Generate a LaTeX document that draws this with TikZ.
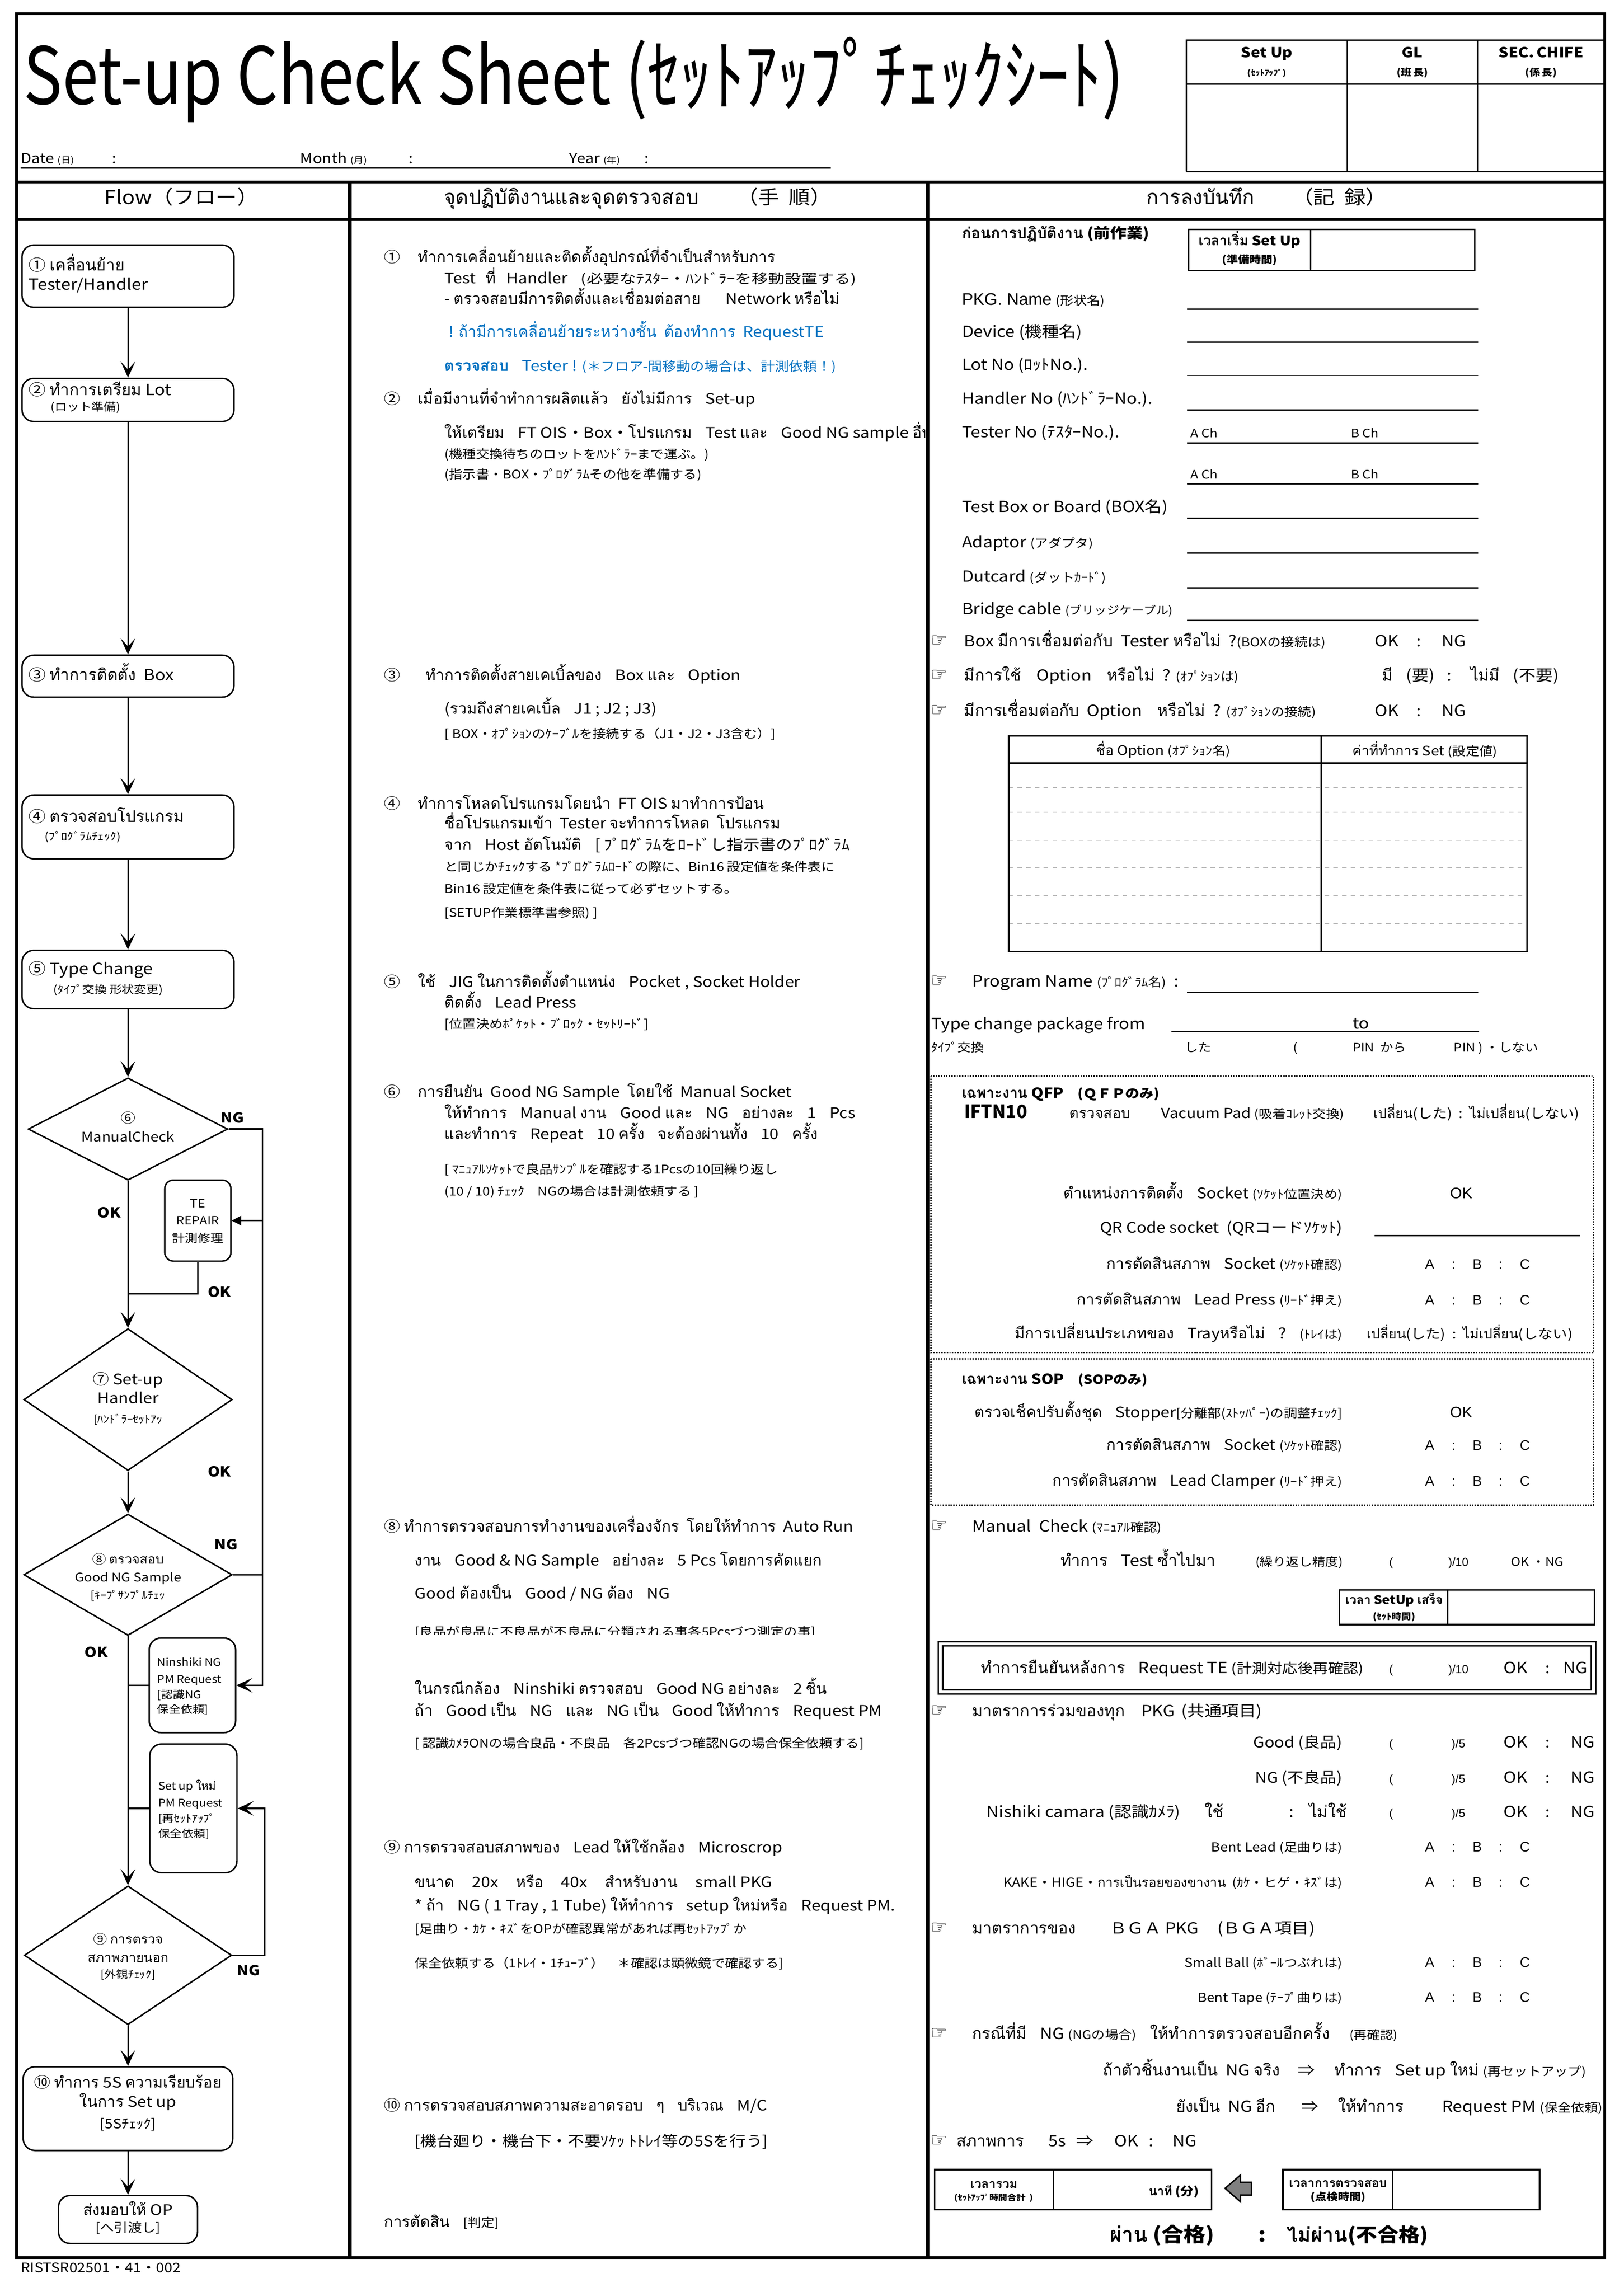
\documentclass[tikz,border=0pt]{standalone}
\usepackage{graphicx}
\usepackage{fontspec}
\setmainfont{Noto Sans CJK JP}[FakeStretch=1.12]
\newfontfamily\thaifont[Script=Thai,Scale=1.05]{Loma}
\newfontfamily\handfont{DejaVu Sans}
\newfontfamily\arfont{Liberation Sans}
\usetikzlibrary{arrows.meta,shapes.geometric}
\newcommand\fs[1]{\fontsize{#1}{#1}\selectfont}
\newcommand\SMa[1]{{\fs{8.2}#1}}
\newcommand\SMb[1]{{\fs{6}#1}}
\newcommand\SMc[1]{\scalebox{1.12}[1]{\fs{9}#1}}
\newcommand\hand{{\handfont\fs{13}☞}}
\newcommand\gap{\hspace{9pt}}
\newcommand\wgap{\hspace{12pt}}
\XeTeXinterchartokenstate=1
\chardef\thaicls=201
\newcount\tmpc
\tmpc="0E00
\loop
  \XeTeXcharclass\tmpc=\thaicls
  \ifnum\tmpc<"0E7F \advance\tmpc by 1
\repeat
\XeTeXinterchartoks 0 \thaicls = {\thaifont}
\XeTeXinterchartoks 1 \thaicls = {\thaifont}
\XeTeXinterchartoks 2 \thaicls = {\thaifont}
\XeTeXinterchartoks 3 \thaicls = {\thaifont}
\XeTeXinterchartoks 4095 \thaicls = {\thaifont}
\XeTeXinterchartoks \thaicls 0 = {\rmfamily}
\XeTeXinterchartoks \thaicls 1 = {\rmfamily}
\XeTeXinterchartoks \thaicls 2 = {\rmfamily}
\XeTeXinterchartoks \thaicls 3 = {\rmfamily}
\XeTeXinterchartoks \thaicls 4095 = {\rmfamily}
\definecolor{blu}{RGB}{0,112,192}
\definecolor{lgray}{RGB}{185,185,185}
\definecolor{agray}{RGB}{128,128,128}
\begin{document}
\begin{tikzpicture}[x=1pt,y=-1pt,
  frame/.style={line width=2pt},
  thin/.style={line width=0.9pt},
  fbox/.style={draw, line width=1pt, rounded corners=8pt, inner sep=0pt},
  sbox/.style={draw, line width=1pt, rounded corners=6pt, inner sep=0pt},
  dia/.style={draw, diamond, line width=1pt, inner sep=0pt},
  arr/.style={line width=1pt, -{Stealth[length=11pt,width=10pt,inset=5.5pt]}},
  tarr/.style={line width=1pt, -{Triangle[length=6.5pt,width=6.5pt]}},
  con/.style={line width=1pt},
  fl/.style={anchor=mid west, inner sep=0pt, font=\fs{10.5}},
  flc/.style={anchor=mid, inner sep=0pt, font=\fs{10}},
  fls/.style={anchor=mid west, inner sep=0pt, font=\fs{7.5}},
  flsc/.style={anchor=mid, inner sep=0pt, font=\fs{7.2}},
  lab/.style={anchor=mid, inner sep=0pt, font=\bfseries\fs{9.5}},
  mt/.style={anchor=mid west, inner sep=0pt, font=\fs{10}},
  ms/.style={anchor=mid west, inner sep=0pt, font=\fs{8.2}},
  rt/.style={anchor=mid west, inner sep=0pt, font=\fs{10.5}},
  rr/.style={anchor=mid east, inner sep=0pt, font=\fs{10}},
  rc/.style={anchor=mid, inner sep=0pt, font=\fs{10}},
  rs/.style={anchor=mid west, inner sep=0pt, font=\fs{8}},
  ab/.style={anchor=mid, inner sep=0pt, font=\arfont\fs{9.5}},
  hd/.style={anchor=mid, inner sep=0pt, font=\fs{13}},
  uline/.style={line width=0.9pt},
  dotbox/.style={line width=0.8pt, dash pattern=on 0.9pt off 0.9pt},
]
\useasboundingbox (0,0) rectangle (1110,1567.2);

% ---------------- frame ----------------
\draw[frame] (11.5,9.5) rectangle (1097,1543.7);
\draw[frame] (11.5,124.5) -- (1097,124.5);
\draw[frame] (11.5,150) -- (1097,150);
\draw[line width=2.5pt] (239,124.5) -- (239,1543.7);
\draw[line width=2.5pt] (634,124.5) -- (634,1543.7);

% ---------------- title area ----------------
\node[anchor=base west, inner sep=0pt] (title) at (16,71.4)
  {\resizebox{752pt}{\height}{\fs{54}Set-up Check Sheet (ｾｯﾄｱｯﾌﾟﾁｪｯｸｼｰﾄ)}};
\draw[thin] (811,117.3) -- (811,27.5) -- (1097,27.5);
\draw[thin] (811,57.5) -- (1097,57.5);
\draw[thin] (811,117.3) -- (1097,117.3);
\draw[thin] (921,27.5) -- (921,117.3);
\draw[thin] (1010,27.5) -- (1010,117.3);
\node[anchor=mid, inner sep=0pt, font=\bfseries\fs{9.5}] (apA) at (866,36.7) {Set Up};
\node[anchor=mid, inner sep=0pt, font=\bfseries\fs{5.5}] (apAs) at (866,49.2) {(ｾｯﾄｱｯﾌﾟ)};
\node[anchor=mid, inner sep=0pt, font=\bfseries\fs{9.5}] (apB) at (965.5,36.7) {GL};
\node[anchor=mid, inner sep=0pt, font=\bfseries\fs{6.5}] (apBs) at (965.5,49.2) {(班\,長)};
\node[anchor=mid, inner sep=0pt, font=\bfseries\fs{9.5}] (apC) at (1053.5,36.7) {SEC.\,CHIFE};
\node[anchor=mid, inner sep=0pt, font=\bfseries\fs{6.5}] (apCs) at (1053.5,49.2) {(係\,長)};

\node[anchor=mid west, inner sep=0pt, font=\fs{9.5}] (dt) at (14,109) {Date \SMb{(日)}};
\node[anchor=mid, inner sep=0pt, font=\fs{9.5}] (dtc) at (78,109) {:};
\node[anchor=mid west, inner sep=0pt, font=\fs{9.5}] (mo) at (205,109) {Month \SMb{(月)}};
\node[anchor=mid, inner sep=0pt, font=\fs{9.5}] (moc) at (281,109) {:};
\node[anchor=mid west, inner sep=0pt, font=\fs{9.5}] (yr) at (389,109) {Year \SMb{(年)}};
\node[anchor=mid, inner sep=0pt, font=\fs{9.5}] (yrc) at (442,109) {:};
\draw[uline] (14,115) -- (568,115);

\node[hd] (h1) at (124,137) {Flow（フロー）};
\node[hd] (h2) at (436,137) {จุดปฏิบัติงานและจุดตรวจสอบ\qquad（手\enspace 順）};
\node[hd] (h3) at (866,137) {การลงบันทึก\qquad（記\enspace 録）};

% ---------------- flow column ----------------
\node[fbox, minimum width=144.9pt, minimum height=42.5pt] (b1) at (87.5,188.85) {};
\node[fbox, minimum width=144.9pt, minimum height=29.5pt] (b2) at (87.5,273.45) {};
\node[fbox, minimum width=144.9pt, minimum height=28.7pt] (b3) at (87.5,462.35) {};
\node[fbox, minimum width=144.9pt, minimum height=43.6pt] (b4) at (87.5,565.4) {};
\node[fbox, minimum width=144.9pt, minimum height=39.9pt] (b5) at (87.5,669.75) {};
\node[dia, minimum width=136.5pt, minimum height=70pt] (d6) at (87.5,772) {};
\node[sbox, minimum width=45.3pt, minimum height=55.4pt] (te) at (135.25,834.6) {};
\node[dia, minimum width=142.5pt, minimum height=97pt] (d7) at (87.5,957) {};
\node[dia, minimum width=142.5pt, minimum height=83pt] (d8) at (87.5,1076.75) {};
\node[fbox, minimum width=59.1pt, minimum height=64.7pt] (ns) at (131.55,1152.35) {};
\node[fbox, minimum width=59.6pt, minimum height=88pt] (su) at (132.2,1236.5) {};
\node[dia, minimum width=141.8pt, minimum height=94.9pt] (d9) at (87.5,1336.95) {};
\node[fbox, minimum width=143.3pt, minimum height=57.2pt] (b10) at (87.5,1441.8) {};
\node[fbox, minimum width=95.1pt, minimum height=32.8pt] (bl) at (87.5,1517.6) {};

\draw[arr] (b1.south) -- (b2.north);
\draw[arr] (b2.south) -- (b3.north);
\draw[arr] (b3.south) -- (b4.north);
\draw[arr] (b4.south) -- (b5.north);
\draw[arr] (b5.south) -- (d6.north);
\draw[arr] (d6.south) -- (d7.north);
\draw[arr] (d7.south) -- (d8.north);
\draw[arr] (d8.south) -- (d9.north);
\draw[arr] (d9.south) -- (b10.north);
\draw[arr] (b10.south) -- (bl.north);

\coordinate (ng6a) at (179.4,772);
\coordinate (ng6b) at (179.4,1152.35);
\coordinate (tea) at (179.4,834.6);
\coordinate (tej) at (87.5,884.8);
\coordinate (ng9a) at (181,1336.95);
\draw[arr] (d6.east) -- (ng6a) -- (ng6b) -- (ns.east);
\draw[tarr] (tea) -- (te.east);
\draw[con] (d8.east) -- (d8.east -| ng6a);
\draw[con] (te.south) |- (tej);
\draw[con] (ns.west) -- (ns.west -| d8.south);
\draw[con] (su.west) -- (su.west -| d8.south);
\draw[arr] (d9.east) -- (ng9a) |- (su.east);

\node[fl] (f1a) at (19.4,182.4) {① เคลื่อนย้าย};
\node[fl] (f1b) at (19.4,195.5) {Tester/Handler};
\node[fl] (f2a) at (19.4,267.5) {② ทำการเตรียม Lot};
\node[fls] (f2b) at (34.4,278.4) {(ロット準備)};
\node[fl] (f3a) at (19.4,462.6) {③ ทำการติดตั้ง\enspace Box};
\node[fl] (f4a) at (19.4,559.5) {④ ตรวจสอบโปรแกรม};
\node[fls] (f4b) at (30.4,572) {(ﾌﾟﾛｸﾞﾗﾑﾁｪｯｸ)};
\node[fl] (f5a) at (19.4,663.5) {⑤ Type Change};
\node[fls] (f5b) at (36.4,676.6) {(ﾀｲﾌﾟ交換 形状変更)};
\node[flc, font=\fs{9}] (f6a) at (87.5,765) {⑥};
\node[flc, font=\fs{9}] (f6b) at (87.5,778) {ManualCheck};
\node[flsc, font=\fs{7.8}] (te1) at (135.2,823) {TE};
\node[flsc, font=\fs{7.8}] (te2) at (135.2,834.7) {REPAIR};
\node[flsc, font=\fs{7.8}] (te3) at (135.2,846.7) {計測修理};
\node[flc] (f7a) at (87.5,943.9) {⑦ Set-up};
\node[flc] (f7b) at (87.5,957) {Handler};
\node[flsc] (f7c) at (87.5,970.5) {[ﾊﾝﾄﾞﾗｰｾｯﾄｱｯ};
\node[flsc, font=\fs{8.5}] (f8a) at (87.5,1066.7) {⑧ ตรวจสอบ};
\node[flsc, font=\fs{8.2}] (f8b) at (87.5,1078.9) {Good NG Sample};
\node[flsc] (f8c) at (87.5,1090.8) {[ｷｰﾌﾟｻﾝﾌﾟﾙﾁｪｯ};
\node[fls, font=\fs{7.2}] (ns1) at (107.3,1136.4) {Ninshiki NG};
\node[fls, font=\fs{7.2}] (ns2) at (107.3,1148) {PM Request};
\node[fls, font=\fs{7.2}] (ns3) at (107.3,1158.8) {[認識NG};
\node[fls, font=\fs{7.2}] (ns4) at (107.3,1168.8) {保全依頼]};
\node[fls, font=\fs{7.2}] (su1) at (108,1221) {Set up ใหม่};
\node[fls, font=\fs{7.2}] (su2) at (108,1232.8) {PM Request};
\node[fls, font=\fs{7.2}] (su3) at (108,1243.4) {[再ｾｯﾄｱｯﾌﾟ};
\node[fls, font=\fs{7.2}] (su4) at (108,1253.6) {保全依頼]};
\node[flsc, font=\fs{8.5}] (f9a) at (87.5,1326.5) {⑨ การตรวจ};
\node[flsc, font=\fs{8.5}] (f9b) at (87.5,1339) {สภาพภายนอก};
\node[flsc] (f9c) at (87.5,1350) {[外観ﾁｪｯｸ]};
\node[flc] (f10a) at (87.5,1424.7) {⑩ ทำการ 5S ความเรียบร้อย};
\node[flc] (f10b) at (87.5,1438) {ในการ Set up};
\node[flc, font=\fs{9}] (f10c) at (87.5,1452.8) {[5Sﾁｪｯｸ]};
\node[flc] (fla) at (87.5,1512) {ส่งมอบให้ OP};
\node[flc, font=\fs{8.5}] (flb) at (87.5,1523.7) {[へ引渡し]};

\node[lab] (l1) at (159,765) {NG};
\node[lab] (l2) at (74.5,830) {OK};
\node[lab] (l3) at (150,884) {OK};
\node[lab] (l4) at (150,1007) {OK};
\node[lab] (l5) at (154.6,1057) {NG};
\node[lab] (l6) at (65.8,1130.6) {OK};
\node[lab] (l7) at (170,1348) {NG};

% ---------------- middle column ----------------
\node[mt] (m1n) at (262.4,176.6) {①};
\node[mt] (m1a) at (285.5,176.6) {ทำการเคลื่อนย้ายและติดตั้งอุปกรณ์ที่จำเป็นสำหรับการ};
\node[mt] (m1b) at (303.7,191.2) {Test\hspace{7pt}ที่\hspace{7pt}Handler\gap \SMc{(必要なﾃｽﾀｰ・ﾊﾝﾄﾞﾗｰを移動設置する)}};
\node[mt] (m1c) at (303.7,205.3) {- ตรวจสอบมีการติดตั้งและเชื่อมต่อสาย\hspace{17pt}Network หรือไม่};
\node[mt, text=blu] (m1d) at (306.5,227.8) {! ถ้ามีการเคลื่อนย้ายระหว่างชั้น\enspace ต้องทำการ\enspace RequestTE};
\node[mt, text=blu] (m1e) at (303.7,251.1) {\textbf{ตรวจสอบ}\gap Tester ! \SMa{\fs{8.6}(＊フロア-間移動の場合は、計測依頼！)}};
\node[mt] (m2n) at (262.4,273.6) {②};
\node[mt] (m2a) at (285.5,273.6) {เมื่อมีงานที่จำทำการผลิตแล้ว\gap ยังไม่มีการ\gap Set-up};
\begin{scope}
\clip (240,285) rectangle (632.5,310);
\node[mt] (m2b) at (303.7,296.9) {ให้เตรียม\gap FT OIS・Box・โปรแกรม\gap Test และ\gap Good NG sample อื่นๆ};
\end{scope}
\node[ms] (m2c) at (303.7,311) {(機種交換待ちのロットをﾊﾝﾄﾞﾗｰまで運ぶ。)};
\node[ms] (m2d) at (303.7,324.8) {(指示書・BOX・ﾌﾟﾛｸﾞﾗﾑその他を準備する)};
\node[mt] (m3n) at (262.4,462.6) {③};
\node[mt] (m3a) at (290.7,462.6) {ทำการติดตั้งสายเคเบิ้ลของ\gap Box และ\gap Option};
\node[mt] (m3b) at (303.7,485.5) {(รวมถึงสายเคเบิ้ล\gap J1 ; J2 ; J3)};
\node[ms] (m3c) at (303.7,502.2) {[ BOX・ｵﾌﾟｼｮﾝのｹｰﾌﾞﾙを接続する（J1・J2・J3含む）]};
\node[mt] (m4n) at (262.4,550.2) {④};
\node[mt] (m4a) at (285.5,550.2) {ทำการโหลดโปรแกรมโดยนำ\enspace FT OIS มาทำการป้อน};
\node[mt] (m4b) at (303.7,563.9) {ชื่อโปรแกรมเข้า\enspace Tester จะทำการโหลด\enspace โปรแกรม};
\node[mt] (m4c) at (303.7,578.5) {จาก\gap Host อัตโนมัติ\gap [ ﾌﾟﾛｸﾞﾗﾑをﾛｰﾄﾞし指示書のﾌﾟﾛｸﾞﾗﾑ};
\node[ms] (m4d) at (303.7,593.1) {と同じかﾁｪｯｸする *ﾌﾟﾛｸﾞﾗﾑﾛｰﾄﾞの際に、Bin16 設定値を条件表に};
\node[ms] (m4e) at (303.7,607.9) {Bin16 設定値を条件表に従って必ずセットする。};
\node[ms] (m4f) at (303.7,624.3) {[SETUP作業標準書参照) ]};
\node[mt] (m5n) at (262.4,672.2) {⑤};
\node[mt] (m5a) at (285.5,672.2) {ใช้\gap JIG ในการติดตั้งตำแหน่ง\gap Pocket , Socket Holder};
\node[mt] (m5b) at (303.7,686.4) {ติดตั้ง\gap Lead Press};
\node[ms] (m5c) at (303.7,700.6) {[位置決めﾎﾟｹｯﾄ・ﾌﾞﾛｯｸ・ｾｯﾄﾘｰﾄﾞ]};
\node[mt] (m6n) at (262.4,747.4) {⑥};
\node[mt] (m6a) at (285.5,747.4) {การยืนยัน\enspace Good NG Sample\enspace โดยใช้\enspace Manual Socket};
\node[mt] (m6b) at (303.7,762) {ให้ทำการ\gap Manual งาน\gap Good และ\gap NG\gap อย่างละ\gap 1\gap Pcs};
\node[mt] (m6c) at (303.7,776.4) {และทำการ\gap Repeat\gap 10 ครั้ง\gap จะต้องผ่านทั้ง\gap 10\gap ครั้ง};
\node[ms] (m6d) at (303.7,799.8) {[ ﾏﾆｭｱﾙｿｹｯﾄで良品ｻﾝﾌﾟﾙを確認する1Pcsの10回繰り返し};
\node[ms] (m6e) at (303.7,815) {(10 / 10) ﾁｪｯｸ\gap NGの場合は計測依頼する ]};
\node[mt] (m8a) at (262.4,1044.7) {⑧ ทำการตรวจสอบการทำงานของเครื่องจักร\enspace โดยให้ทำการ\enspace Auto Run};
\node[mt] (m8b) at (283.4,1067.9) {งาน\gap Good \& NG Sample\gap อย่างละ\gap 5 Pcs โดยการคัดแยก};
\node[mt] (m8c) at (283.4,1090.3) {Good ต้องเป็น\gap Good / NG ต้อง\gap NG};
\begin{scope}
\clip (240,1105) rectangle (632.5,1117.6);
\node[ms] (m8d) at (283.4,1116.2) {[良品が良品に不良品が不良品に分類される事各5Pcsづつ測定の事]};
\end{scope}
\node[mt] (m8e) at (283.4,1155.6) {ในกรณีกล้อง\gap Ninshiki ตรวจสอบ\gap Good NG อย่างละ\gap 2 ชิ้น};
\node[mt] (m8f) at (283.4,1170.5) {ถ้า\gap Good เป็น\gap NG\gap และ\gap NG เป็น\gap Good ให้ทำการ\gap Request PM};
\node[ms] (m8g) at (283.4,1192.2) {[ 認識ｶﾒﾗONの場合良品・不良品　各2Pcsづつ確認NGの場合保全依頼する]};
\node[mt] (m9a) at (262.4,1264.1) {⑨ การตรวจสอบสภาพของ\gap Lead ให้ใช้กล้อง\gap Microscrop};
\node[mt] (m9b) at (283.4,1287.8) {ขนาด\wgap 20x\wgap หรือ\wgap 40x\wgap สำหรับงาน\wgap small PKG};
\node[mt] (m9c) at (283.4,1303.7) {* ถ้า\gap NG ( 1 Tray , 1 Tube) ให้ทำการ\gap setup ใหม่หรือ\gap Request PM.};
\node[ms] (m9d) at (283.4,1319.1) {[足曲り・ｶｹ・ｷｽﾞをOPが確認異常があれば再ｾｯﾄｱｯﾌﾟか};
\node[ms] (m9e) at (283.4,1342.8) {保全依頼する（1ﾄﾚｲ・1ﾁｭｰﾌﾞ）\gap ＊確認は顕微鏡で確認する]};
\node[mt] (m10a) at (262.4,1440.6) {⑩ การตรวจสอบสภาพความสะอาดรอบ\gap ๆ\gap บริเวณ\gap M/C};
\node[mt] (m10b) at (283.4,1465) {[機台廻り・機台下・不要ｿｹｯ ﾄﾄﾚｲ等の5Sを行う]};
\node[mt] (mj) at (262.4,1520) {การตัดสิน\gap \SMa{[判定]}};

% ---------------- right column ----------------
\node[rt, font=\bfseries\fs{10}] (r0) at (657.4,160.5) {ก่อนการปฏิบัติงาน (前作業)};
\draw[line width=1pt] (812.7,157) rectangle (1008.1,185);
\draw[line width=1pt] (896,157) -- (896,185);
\node[rc, font=\bfseries\fs{9}] (r0a) at (854.3,165.2) {เวลาเริ่ม Set Up};
\node[rc, font=\bfseries\fs{7}] (r0b) at (854.3,177.5) {(準備時間)};

\node[rt] (r1) at (657.4,206) {{\arfont\fs{11.5}PKG. Name} \SMa{(形状名)}};
\node[rt] (r2) at (657.4,227.7) {Device (機種名)};
\node[rt] (r3) at (657.4,250.4) {Lot No (ﾛｯﾄNo.).};
\node[rt] (r4) at (657.4,273.7) {Handler No (ﾊﾝﾄﾞﾗｰNo.).};
\node[rt] (r5) at (657.4,296.6) {Tester No (ﾃｽﾀｰNo.).};
\node[rt] (r6) at (657.4,347.7) {Test Box or Board (BOX名)};
\node[rt] (r7) at (657.4,371.8) {Adaptor \SMa{(アダプタ)}};
\node[rt] (r8) at (657.4,395.1) {Dutcard \SMa{(ダットｶｰﾄﾞ)}};
\node[rt] (r9) at (657.4,417.3) {Bridge cable {\fs{7.6}(ブリッジケーブル)}};
\foreach \yy in {211.4,234.0,256.7,280.3,302.9,330.9,354.3,378.3,402.1,424.3}
  \draw[uline] (811.4,\yy) -- (1010.5,\yy);
\node[rs] (ra1) at (813.6,296.6) {A Ch};
\node[rs] (rb1) at (923.2,296.6) {B Ch};
\node[rs] (ra2) at (813.6,324.6) {A Ch};
\node[rs] (rb2) at (923.2,324.6) {B Ch};

\node[rt] (h1a) at (636,439.5) {\hand};
\node[rt] (q1) at (658.9,439.5) {Box มีการเชื่อมต่อกับ\enspace Tester หรือไม่\enspace ?\SMa{(BOXの接続は)}};
\node[rc, font=\fs{10.5}] (q1o) at (948,439.5) {OK};
\node[rc] (q1c) at (970,439.5) {:};
\node[rc, font=\fs{10.5}] (q1n) at (994,439.5) {NG};
\node[rt] (h1b) at (636,462.9) {\hand};
\node[rt] (q2) at (658.9,462.9) {มีการใช้\quad Option\quad หรือไม่\enspace ? \SMa{(ｵﾌﾟｼｮﾝは)}};
\node[rt] (q2a) at (944.7,462.9) {มี};
\node[rt] (q2b) at (961,462.9) {(要)};
\node[rt] (q2c) at (989,462.9) {:};
\node[rt] (q2d) at (1005,462.9) {ไม่มี};
\node[rt] (q2e) at (1034,462.9) {(不要)};
\node[rt] (h1c) at (636,486.9) {\hand};
\node[rt] (q3) at (658.9,486.9) {มีการเชื่อมต่อกับ\enspace Option\quad หรือไม่\enspace ? \SMa{(ｵﾌﾟｼｮﾝの接続)}};
\node[rc, font=\fs{10.5}] (q3o) at (948,486.9) {OK};
\node[rc] (q3c) at (970,486.9) {:};
\node[rc, font=\fs{10.5}] (q3n) at (994,486.9) {NG};

\foreach \yy in {538.5,555.3,574.7,593.4,612.5,631.7}
  \draw[lgray, line width=0.6pt, dashed] (689.5,\yy) -- (1043.9,\yy);
\draw[line width=1.1pt] (689.5,503.2) rectangle (1043.9,650.6);
\draw[line width=1.1pt] (689.5,521.9) -- (1043.9,521.9);
\draw[line width=1.1pt] (903.3,503.2) -- (903.3,650.6);
\node[rc, font=\fs{9}] (ot1) at (795.2,513.7) {ชื่อ Option \SMa{(ｵﾌﾟｼｮﾝ名)}};
\node[rc, font=\fs{9}] (ot2) at (974,514) {ค่าที่ทำการ Set \SMa{(設定値)}};

\node[rt] (h1d) at (636,672) {\hand};
\node[rt] (pn) at (664.4,672) {Program Name \SMa{(ﾌﾟﾛｸﾞﾗﾑ名)}\enspace :};
\draw[uline] (811.4,678.6) -- (1010.5,678.6);
\node[rt, font=\fs{10.5}] (tc) at (636.5,701.2) {Type change package from};
\draw[uline] (800.7,705.4) -- (1011.1,705.4);
\node[rt, font=\fs{10.5}] (tct) at (924.5,700.8) {to};
\node[rs] (tc1) at (636.5,716.4) {ﾀｲﾌﾟ交換};
\node[rs] (tc2) at (809.9,716.4) {した};
\node[rs] (tc3) at (884,716.4) {(};
\node[rs] (tc4) at (924.5,716.4) {PIN\enspace から};
\node[rs] (tc5) at (993.7,716.4) {PIN ) ・しない};

% QFP box
\draw[dotbox] (636.5,735.8) rectangle (1089.3,924.9);
\node[rt, font=\bfseries\fs{9.5}] (qf0) at (657.4,748) {เฉพาะงาน QFP\quad {\fs{8.6}(ＱＦＰのみ)}};
\node[rt, font=\bfseries\fs{12.5}] (qf1) at (659,762) {\scalebox{0.86}[1]{IFTN10}};
\node[rt, font=\fs{9.5}] (qf2) at (730.9,762) {ตรวจสอบ};
\node[rt, font=\fs{9.5}] (qf3) at (793.7,762) {Vacuum Pad \SMa{(吸着ｺﾚｯﾄ交換)}};
\node[rt, font=\fs{9}] (qf4) at (938.6,762) {เปลี่ยน(した)\enspace :\enspace ไม่เปลี่ยน(しない)};
\node[rr] (qf5) at (917.7,816.8) {ตำแหน่งการติดตั้ง\gap Socket \SMa{(ｿｹｯﾄ位置決め)}};
\node[ab, font=\arfont\fs{10.5}] (qf5o) at (998.9,816.8) {OK};
\node[rr] (qf6) at (917.7,840.2) {QR Code socket\enspace (QRコードｿｹｯﾄ)};
\draw[uline] (939.8,844.9) -- (1080,844.9);
\node[rr] (qf7) at (917.7,864.9) {การตัดสินสภาพ\gap Socket \SMa{(ｿｹｯﾄ確認)}};
\node[rr] (qf8) at (917.7,889.4) {การตัดสินสภาพ\gap Lead Press \SMa{(ﾘｰﾄﾞ押え)}};
\node[rr] (qf9) at (917.7,912.8) {มีการเปลี่ยนประเภทของ\gap Trayหรือไม่\gap ?\gap \SMa{(ﾄﾚｲは)}};
\node[rt, font=\fs{9}] (qf9b) at (934,912.8) {เปลี่ยน(した)\enspace :\enspace ไม่เปลี่ยน(しない)};

% SOP box
\draw[dotbox] (636.5,929.1) rectangle (1089.3,1029.1);
\node[rt, font=\bfseries\fs{9.5}] (sp0) at (657.4,943.8) {เฉพาะงาน SOP\quad {\fs{8.6}(SOPのみ)}};
\node[rr] (sp1) at (917.7,966.5) {ตรวจเช็คปรับตั้งชุด\gap Stopper\SMa{[分離部(ｽﾄｯﾊﾟｰ)の調整ﾁｪｯｸ]}};
\node[ab, font=\arfont\fs{10.5}] (sp1o) at (998.9,966.5) {OK};
\node[rr] (sp2) at (917.7,988.7) {การตัดสินสภาพ\gap Socket \SMa{(ｿｹｯﾄ確認)}};
\node[rr] (sp3) at (917.7,1013.2) {การตัดสินสภาพ\gap Lead Clamper \SMa{(ﾘｰﾄﾞ押え)}};

% A : B : C rows
\foreach \yy/\nm in {864.9/a1,889.4/a2,988.7/a3,1013.2/a4,1263.3/a5,1287.4/a6,1342.3/a7,1366.3/a8}{
  \node[ab] (\nm A) at (977.4,\yy) {A};
  \node[ab] (\nm c1) at (993.7,\yy) {:};
  \node[ab] (\nm B) at (1009.9,\yy) {B};
  \node[ab] (\nm c2) at (1025.8,\yy) {:};
  \node[ab] (\nm C) at (1042.4,\yy) {C};
}

% manual check
\node[rt] (h1e) at (636,1044.7) {\hand};
\node[rt] (mc) at (664.4,1044.7) {Manual\enspace Check \SMa{(ﾏﾆｭｱﾙ確認)}};
\node[rt] (mc1) at (724.8,1068.1) {ทำการ\gap Test ซ้ำไปมา};
\node[rs] (mc2) at (858,1068.1) {(繰り返し精度)};
\node[ab, font=\arfont\fs{8}] (mc3) at (951,1068.1) {(};
\node[ab, font=\arfont\fs{8}] (mc4) at (997,1068.1) {)/10};
\node[rc, font=\fs{8}] (mc5) at (1051,1068.1) {OK ・NG};
\draw[line width=1pt] (915.6,1087.2) rectangle (1089.9,1110.8);
\draw[line width=1pt] (989.7,1087.2) -- (989.7,1110.8);
\node[rc, font=\bfseries\fs{8}] (fin1) at (953,1094.2) {เวลา SetUp เสร็จ};
\node[rc, font=\bfseries\fs{6}] (fin2) at (953,1104.7) {(ｾｯﾄ時間)};

% double box
\draw[line width=1pt] (641.4,1122.5) rectangle (1090.8,1158.4);
\draw[line width=1pt] (644.4,1125.5) rectangle (1087.8,1155.4);
\node[rt] (rq) at (670.5,1141.6) {ทำการยืนยันหลังการ\gap Request TE \SMa{\fs{9.3}(計測対応後再確認)}};
\node[ab, font=\arfont\fs{8}] (rq1) at (951,1141.6) {(};
\node[ab, font=\arfont\fs{8}] (rq2) at (997,1141.6) {)/10};
\node[rc, font=\fs{10.5}] (rq3) at (1036,1141.6) {OK};
\node[rc] (rq4) at (1058,1141.6) {:};
\node[rc, font=\fs{10.5}] (rq5) at (1077,1141.6) {NG};

\node[rt] (h1f) at (636,1170.8) {\hand};
\node[rt] (cm0) at (664.4,1170.8) {มาตราการร่วมของทุก};
\node[rt] (cm0b) at (780,1170.8) {PKG};
\node[rt] (cm0c) at (807.5,1170.8) {(共通項目)};
\foreach \yy/\nm/\tx in {1192.3/g1/{Good (良品)},1216.4/g2/{NG (不良品)}}{
  \node[rr] (\nm) at (917.7,\yy) {\tx};
}
\foreach \yy/\nm/\den in {1192.3/k1/5,1216.4/k2/5,1239.8/k3/5}{
  \node[ab, font=\arfont\fs{8}] (\nm p) at (951,\yy) {(};
  \node[ab, font=\arfont\fs{8}] (\nm d) at (997,\yy) {)/\den};
  \node[rc, font=\fs{10.5}] (\nm o) at (1036,\yy) {OK};
  \node[rc] (\nm c) at (1058,\yy) {:};
  \node[rc, font=\fs{10.5}] (\nm n) at (1082,\yy) {NG};
}
\node[rt] (nc) at (674.2,1239.8) {Nishiki camara (認識ｶﾒﾗ)};
\node[rt] (nc1) at (823.4,1239.8) {ใช้};
\node[rt] (nc2) at (881,1239.8) {:};
\node[rt] (nc3) at (894.7,1239.8) {ไม่ใช้};
\node[rr, font=\fs{8.5}] (bl1) at (917.7,1263.3) {Bent Lead \SMa{(足曲りは)}};
\node[rr, font=\fs{8.5}] (bl2) at (917.7,1287.4) {KAKE・HIGE・การเป็นรอยของขางาน\enspace \SMa{(ｶｹ・ヒゲ・ｷｽﾞは)}};
\node[rt] (h1g) at (636,1319.4) {\hand};
\node[rt] (bg0) at (664.4,1319.4) {มาตราการของ};
\node[rt] (bg1) at (758.4,1319.4) {ＢＧＡ PKG};
\node[rt] (bg2) at (832,1319.4) {(ＢＧＡ項目)};
\node[rr, font=\fs{8.5}] (bg3) at (917.7,1342.3) {Small Ball \SMa{(ﾎﾞｰﾙつぶれは)}};
\node[rr, font=\fs{8.5}] (bg4) at (917.7,1366.3) {Bent Tape \SMa{(ﾃｰﾌﾟ曲りは)}};
\node[rt] (h1h) at (636,1391.5) {\hand};
\node[rt] (re0) at (664.4,1391.5) {กรณีที่มี\gap NG \SMa{(NGの場合)}};
\node[rt] (re1) at (786,1391.5) {ให้ทำการตรวจสอบอีกครั้ง};
\node[rs] (re2) at (922.3,1391.5) {(再確認)};
\node[rt] (re3) at (753.9,1416.7) {ถ้าตัวชิ้นงานเป็น\enspace NG จริง};
\node[rt] (re4) at (887,1416.7) {⇒};
\node[rt] (re5) at (912.2,1416.7) {ทำการ\gap Set up ใหม่ \SMa{(再セットアップ)}};
\node[rt] (re6) at (803.8,1441.4) {ยังเป็น\enspace NG อีก};
\node[rt] (re7) at (889.5,1441.4) {⇒};
\node[rt] (re8) at (914.6,1441.4) {ให้ทำการ};
\node[rt] (re9) at (985.7,1441.4) {Request PM \SMa{(保全依頼)}};
\node[rt] (h1i) at (636,1464.8) {\hand};
\node[rt] (ss0) at (653.7,1464.8) {สภาพการ};
\node[rt] (ss1) at (716.5,1464.8) {5s};
\node[rt] (ss2) at (735.5,1464.8) {⇒};
\node[rt] (ss3) at (761.5,1464.8) {OK};
\node[rt] (ss4) at (785,1464.8) {:};
\node[rt] (ss5) at (801.3,1464.8) {NG};

% time boxes
\draw[line width=1pt] (639,1483.5) rectangle (828.3,1511);
\draw[line width=1pt] (720.2,1483.5) -- (720.2,1511);
\node[rc, font=\bfseries\fs{8}] (tt1) at (679.4,1493.4) {เวลารวม};
\node[rc, font=\bfseries\fs{5.5}] (tt2) at (679.4,1501.8) {(ｾｯﾄｱｯﾌﾟ時間合計\enspace )};
\node[rr, font=\bfseries\fs{8}] (tt3) at (819.7,1498.6) {นาที (分)};
\draw[line width=1pt, fill=agray] (837.5,1496.3) -- (848,1487.2) -- (848,1492.2) -- (855.5,1492.2)
  -- (855.5,1500.9) -- (848,1500.9) -- (848,1505.5) -- cycle;
\draw[line width=1pt] (877,1483.5) rectangle (1052.5,1511);
\draw[line width=1pt] (952,1483.5) -- (952,1511);
\node[rc, font=\bfseries\fs{8}] (ck1) at (914.7,1492.7) {เวลาการตรวจสอบ};
\node[rc, font=\bfseries\fs{7}] (ck2) at (914.7,1501.8) {(点検時間)};
\node[rt, font=\bfseries\fs{13.5}] (ps1) at (758.4,1530) {ผ่าน (合格)};
\node[rc, font=\bfseries\fs{13.5}] (ps2) at (863,1530) {:};
\node[rt, font=\bfseries\fs{13}] (ps3) at (879.4,1530) {ไม่ผ่าน(不合格)};

\node[anchor=mid west, inner sep=0pt, font=\fs{9}] (foot) at (14,1551) {RISTSR02501・41・002};
\end{tikzpicture}
\end{document}
